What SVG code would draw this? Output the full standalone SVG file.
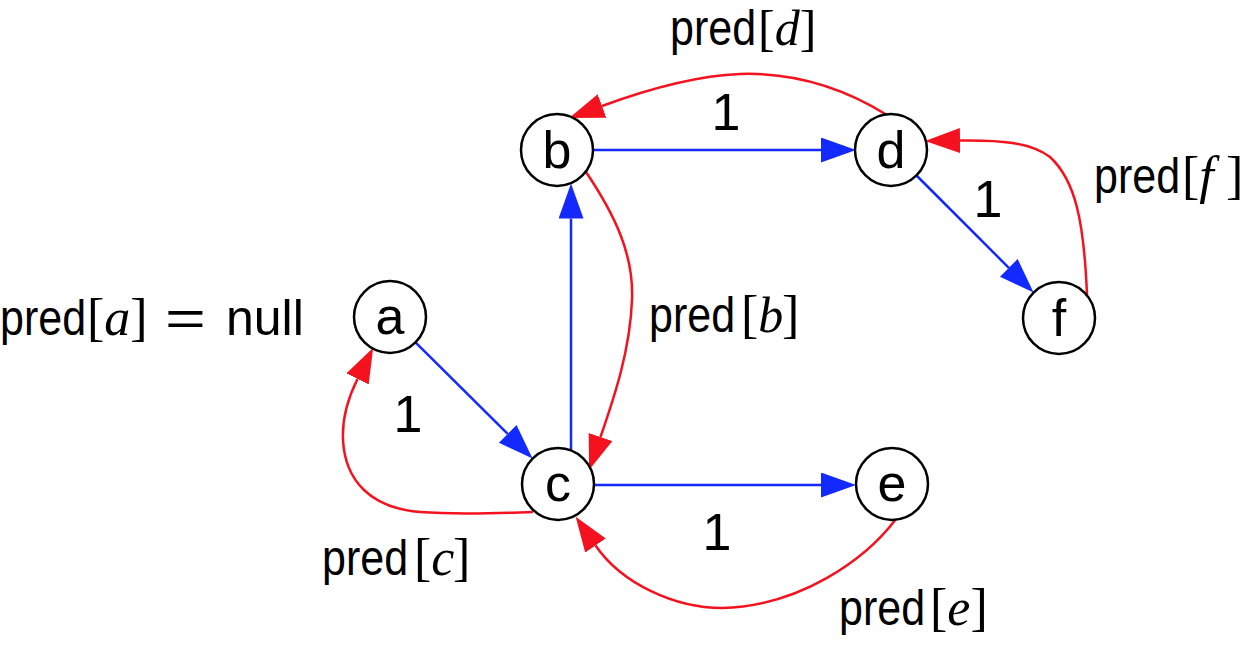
<svg xmlns="http://www.w3.org/2000/svg" width="1252" height="668" viewBox="0 0 1252 668">
<defs>
<marker id="ab" markerUnits="userSpaceOnUse" markerWidth="36" markerHeight="26" viewBox="0 0 36 26" refX="0" refY="12.5" orient="auto"><path d="M0,0 L35,12.5 L0,25 Z" fill="#1229ff"/></marker>
<marker id="ar" markerUnits="userSpaceOnUse" markerWidth="36" markerHeight="26" viewBox="0 0 36 26" refX="0" refY="12.5" orient="auto"><path d="M0,0 L35,12.5 L0,25 Z" fill="#f5121f"/></marker>
<style>
.node circle{fill:#fff;stroke:#000;stroke-width:2.5}
.node text{font-family:"Liberation Sans",Arial,sans-serif;font-size:52px;text-anchor:middle;fill:#000}
.blue{fill:none;stroke:#1229ff;stroke-width:2.5;marker-end:url(#ab)}
.red{fill:none;stroke:#f5121f;stroke-width:2.5;marker-end:url(#ar)}
.w{font-family:"Liberation Sans",Arial,sans-serif;font-size:52px;text-anchor:middle;fill:#000}
.lbl{font-family:"Liberation Sans",Arial,sans-serif;font-size:50px;fill:#000}
.s{font-family:"Liberation Serif","Times New Roman",serif;font-size:52px}
.i{font-family:"Liberation Serif","Times New Roman",serif;font-style:italic;font-size:52px}
</style>
</defs>
<rect width="1252" height="668" fill="#fff"/>
<g id="connectors">
<path class="blue" d="M593,150 L821,150"/>
<path class="blue" d="M916.5,175.5 L1008.8,267.8"/>
<path class="blue" d="M415.5,342.4 L507.7,433.9"/>
<path class="blue" d="M571,450.4 L571,218.6"/>
<path class="blue" d="M594,485 L821,485"/>
<path class="red" d="M887,115 C850,92 800,72 740,74 C690,76 640,92 602,106"/>
<path class="red" d="M1087,295 C1084,220 1075,180 1050,157 C1030,142 1000,140 960,140.5"/>
<path class="red" d="M586,172 C615,215 634,255 632,300 C630,350 615,395 600.5,437"/>
<path class="red" d="M533,512 C500,513 460,515 420,512 C370,508 345,480 343,440 C342,420 348,398 357.5,379"/>
<path class="red" d="M896,519 C865,560 800,606 722,608 C675,608 622,584 595.5,545.5"/>
<text class="w" x="726" y="130">1</text>
<text class="w" x="988" y="217">1</text>
<text class="w" x="408" y="432">1</text>
<text class="w" x="717" y="550">1</text>
</g>
<g id="labels">
<g id="label-a">
<text class="lbl" transform="translate(0,335) scale(0.86,1)">pred</text>
<text class="lbl" y="335"><tspan class="s" x="87">[</tspan><tspan class="i">a</tspan><tspan class="s">]</tspan></text>
<text class="lbl" transform="translate(165,335) scale(1.4,1)">=</text>
<text class="lbl" x="226" y="335">null</text>
</g>
<g id="label-b">
<text class="lbl" transform="translate(649,332) scale(0.86,1)">pred</text>
<text class="lbl" y="332"><tspan class="s" x="741">[</tspan><tspan class="i" style="font-size:50px">b</tspan><tspan class="s" x="782">]</tspan></text>
</g>
<g id="label-c">
<text class="lbl" transform="translate(322,575) scale(0.86,1)">pred</text>
<text class="lbl" y="575"><tspan class="s" x="414">[</tspan><tspan class="i">c</tspan><tspan class="s" x="453">]</tspan></text>
</g>
<g id="label-d">
<text class="lbl" transform="translate(670,45) scale(0.86,1)">pred</text>
<text class="lbl" y="45"><tspan class="s" x="758" style="font-size:50px">[</tspan><tspan class="i" style="font-size:50px">d</tspan><tspan class="s" style="font-size:50px">]</tspan></text>
</g>
<g id="label-e">
<text class="lbl" transform="translate(839,625) scale(0.86,1)">pred</text>
<text class="lbl" y="625"><tspan class="s" x="930">[</tspan><tspan class="i">e</tspan><tspan class="s">]</tspan></text>
</g>
<g id="label-f">
<text class="lbl" transform="translate(1094,193) scale(0.86,1)">pred</text>
<text class="lbl" y="193"><tspan class="s" x="1182">[</tspan><tspan class="i">f</tspan><tspan class="s" x="1226">]</tspan></text>
</g>
</g>
<g id="node-a" class="node"><circle cx="390" cy="317" r="36"/><text x="390" y="334">a</text></g>
<g id="node-b" class="node"><circle cx="557" cy="150" r="36"/><text x="557" y="168">b</text></g>
<g id="node-c" class="node"><circle cx="558" cy="484" r="36"/><text x="558" y="501">c</text></g>
<g id="node-d" class="node"><circle cx="891" cy="150" r="36"/><text x="891" y="168">d</text></g>
<g id="node-e" class="node"><circle cx="892" cy="484" r="36"/><text x="892" y="501">e</text></g>
<g id="node-f" class="node"><circle cx="1059" cy="318" r="36"/><text x="1059" y="336">f</text></g>
</svg>
